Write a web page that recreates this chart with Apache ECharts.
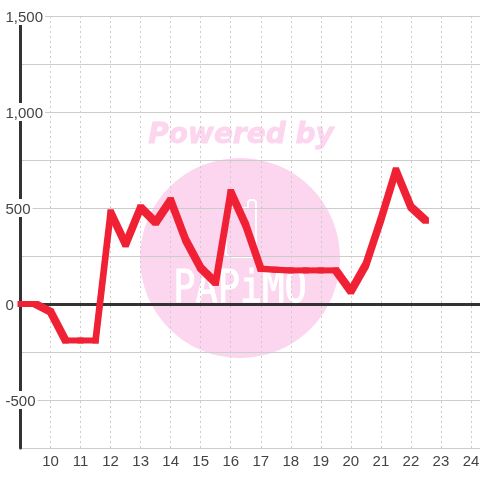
<!DOCTYPE html>
<html>
<head>
<meta charset="utf-8">
<style>
  html, body { margin: 0; padding: 0; background: #fff; }
  #main { width: 480px; height: 480px; }
</style>
<script src="https://cdn.jsdelivr.net/npm/echarts@6/dist/echarts.min.js"></script>
</head>
<body>
<div id="main"></div>
<script>
// 时间轴 (half hours)
const hours = [9, 9.5, 10, 10.5, 11, 11.5, 12, 12.5, 13, 13.5, 14, 14.5, 15, 15.5, 16, 16.5, 17, 17.5, 18, 18.5, 19, 19.5, 20, 20.5, 21, 21.5, 22, 22.5];
const values = [0, 0, -40, -190, -190, -190, 477, 311, 503, 425, 540, 333, 187, 111, 583, 411, 184, 178, 175, 175, 175, 175, 66, 205, 440, 695, 505, 434];
const yLabels = { '-500': '-500', '0': '0', '500': '500', '1000': '1,000', '1500': '1,500' };
const xLabels = [10, 11, 12, 13, 14, 15, 16, 17, 18, 19, 20, 21, 22, 23, 24];

const chart = echarts.init(document.getElementById('main'));

const font = 'Liberation Sans';
const gray = '#444';
const pink = '#fcd5ee';
const brush = 3; // half size of the square pen

// 相邻两点一段，方形笔刷扫出来的形状
const segments = hours.slice(1).map((h, i) => [hours[i], values[i], h, values[i + 1]]);

function renderSegment(params, api) {
  const a = api.coord([api.value(0), api.value(1)]);
  const b = api.coord([api.value(2), api.value(3)]);
  const h = brush;
  const points = b[1] < a[1]
    ? [[a[0] - h, a[1] - h], [b[0] - h, b[1] - h], [b[0] + h, b[1] - h], [b[0] + h, b[1] + h], [a[0] + h, a[1] + h], [a[0] - h, a[1] + h]]
    : [[a[0] - h, a[1] - h], [a[0] + h, a[1] - h], [b[0] + h, b[1] - h], [b[0] + h, b[1] + h], [b[0] - h, b[1] + h], [a[0] - h, a[1] + h]];
  return { type: 'polygon', shape: { points: points }, style: { fill: '#f02035' } };
}

const option = {
  animation: false,
  backgroundColor: '#fff',
  grid: { left: 20.5, right: 0, top: 16, bottom: 32, outerBoundsMode: 'none' },
  // 水印
  graphic: [
    { type: 'circle', z: -1, silent: true, shape: { cx: 240, cy: 258, r: 100 }, style: { fill: pink } },
    { type: 'text', z: -1, silent: true, x: 241, y: 136, style: { text: 'Powered by', fill: pink, stroke: pink, lineWidth: 0.8, font: 'italic bold 28px "DejaVu Sans"', align: 'center', verticalAlign: 'middle' } },
    {
      type: 'polyline', z: -1, silent: true,
      shape: { points: [[226, 208], [226, 254], [229, 257], [253, 257], [256, 254], [256, 202], [254, 200], [250, 200], [248, 202], [248, 208], [226, 208]] },
      style: { fill: 'none', stroke: '#fff', lineWidth: 2 }
    },
    { type: 'text', z: -1, silent: true, x: 240, y: 290, scaleY: 1.2, style: { text: 'PAPiMO', fill: '#fff', stroke: '#fff', lineWidth: 0.8, font: '37px "DejaVu Sans Mono"', align: 'center', verticalAlign: 'middle' } }
  ],
  xAxis: [
    {
      type: 'value',
      min: 9,
      max: 24.3,
      interval: 1,
      position: 'bottom',
      axisLine: { show: false, onZero: false },
      axisTick: { show: false },
      axisLabel: {
        fontFamily: font, fontSize: 15, color: gray, margin: 6,
        formatter: v => (xLabels.includes(v) ? String(v) : '')
      },
      splitLine: { show: true, lineStyle: { color: '#ccc', type: [2, 3], width: 1 } }
    },
    {
      // 0 的粗线
      type: 'value',
      min: 9,
      max: 24.3,
      interval: 1,
      position: 'top',
      axisLine: { show: true, onZero: true, lineStyle: { color: '#333', width: 3 } },
      axisTick: { show: false },
      axisLabel: { show: false },
      splitLine: { show: false }
    }
  ],
  yAxis: {
    type: 'value',
    min: -750,
    max: 1500,
    interval: 250,
    axisLine: { show: true, onZero: false, lineStyle: { color: '#333', width: 3 } },
    axisTick: { show: false },
    axisLabel: {
      align: 'left', margin: 15,
      backgroundColor: '#fff',
      padding: [0, 2, 0, 0],
      formatter: v => (yLabels[v] ? '{v|' + yLabels[v] + '}' : ''),
      rich: {
        v: { fontFamily: font, fontSize: 15, color: gray, padding: [3, 0, 0, 0] }
      }
    },
    splitLine: { show: true, lineStyle: { color: '#ccc', width: 1 } }
  },
  series: [{
    type: 'custom',
    renderItem: renderSegment,
    data: segments,
    encode: { x: [0, 2], y: [1, 3] },
    silent: true,
    z: 5
  }]
};
chart.setOption(option);
</script>
</body>
</html>
